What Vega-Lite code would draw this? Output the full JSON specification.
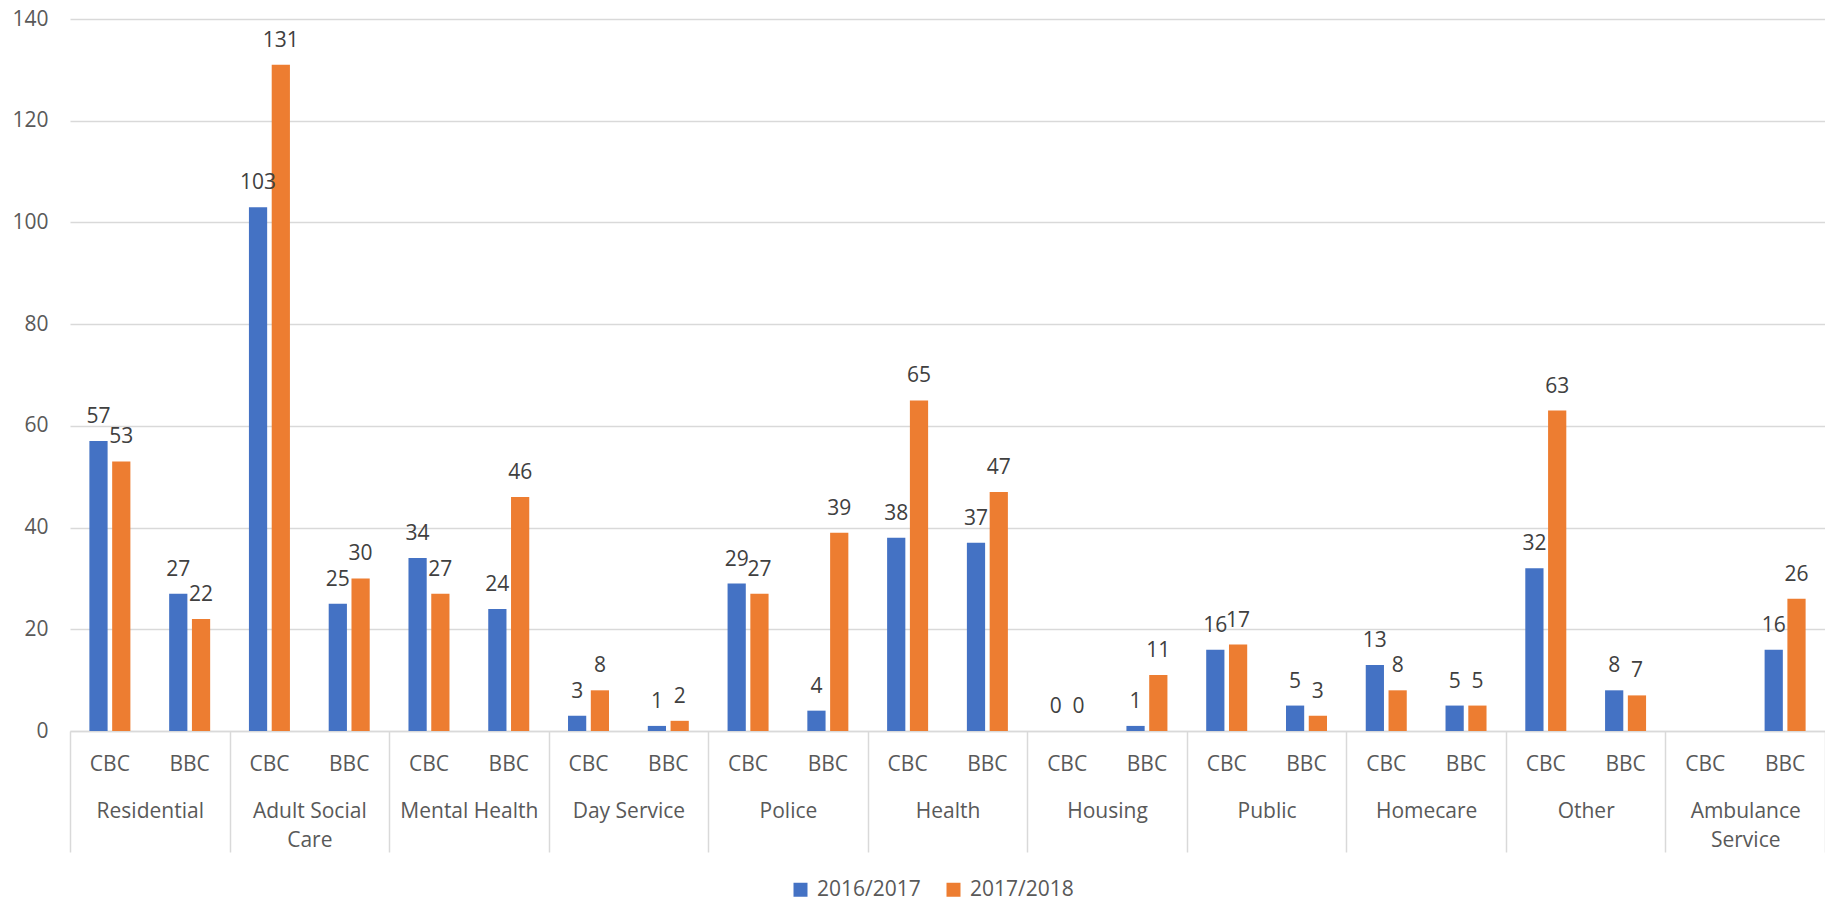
{
  "$schema": "https://vega.github.io/schema/vega-lite/v6.json",
  "autosize": {"type": "none"},
  "width": 1755,
  "height": 712,
  "padding": {"left": 70, "top": 19, "right": 0, "bottom": 171},
  "background": "white",
  "config": {
    "font": "Open Sans",
    "view": {"stroke": null}
  },
  "data": {
    "values": [
      {"category": "Residential", "sub": "CBC", "key": "Residential|CBC", "series": "2016/2017", "value": 57},
      {"category": "Residential", "sub": "CBC", "key": "Residential|CBC", "series": "2017/2018", "value": 53},
      {"category": "Residential", "sub": "BBC", "key": "Residential|BBC", "series": "2016/2017", "value": 27},
      {"category": "Residential", "sub": "BBC", "key": "Residential|BBC", "series": "2017/2018", "value": 22},
      {"category": "Adult Social Care", "sub": "CBC", "key": "Adult Social Care|CBC", "series": "2016/2017", "value": 103},
      {"category": "Adult Social Care", "sub": "CBC", "key": "Adult Social Care|CBC", "series": "2017/2018", "value": 131},
      {"category": "Adult Social Care", "sub": "BBC", "key": "Adult Social Care|BBC", "series": "2016/2017", "value": 25},
      {"category": "Adult Social Care", "sub": "BBC", "key": "Adult Social Care|BBC", "series": "2017/2018", "value": 30},
      {"category": "Mental Health", "sub": "CBC", "key": "Mental Health|CBC", "series": "2016/2017", "value": 34},
      {"category": "Mental Health", "sub": "CBC", "key": "Mental Health|CBC", "series": "2017/2018", "value": 27},
      {"category": "Mental Health", "sub": "BBC", "key": "Mental Health|BBC", "series": "2016/2017", "value": 24},
      {"category": "Mental Health", "sub": "BBC", "key": "Mental Health|BBC", "series": "2017/2018", "value": 46},
      {"category": "Day Service", "sub": "CBC", "key": "Day Service|CBC", "series": "2016/2017", "value": 3},
      {"category": "Day Service", "sub": "CBC", "key": "Day Service|CBC", "series": "2017/2018", "value": 8},
      {"category": "Day Service", "sub": "BBC", "key": "Day Service|BBC", "series": "2016/2017", "value": 1},
      {"category": "Day Service", "sub": "BBC", "key": "Day Service|BBC", "series": "2017/2018", "value": 2},
      {"category": "Police", "sub": "CBC", "key": "Police|CBC", "series": "2016/2017", "value": 29},
      {"category": "Police", "sub": "CBC", "key": "Police|CBC", "series": "2017/2018", "value": 27},
      {"category": "Police", "sub": "BBC", "key": "Police|BBC", "series": "2016/2017", "value": 4},
      {"category": "Police", "sub": "BBC", "key": "Police|BBC", "series": "2017/2018", "value": 39},
      {"category": "Health", "sub": "CBC", "key": "Health|CBC", "series": "2016/2017", "value": 38},
      {"category": "Health", "sub": "CBC", "key": "Health|CBC", "series": "2017/2018", "value": 65},
      {"category": "Health", "sub": "BBC", "key": "Health|BBC", "series": "2016/2017", "value": 37},
      {"category": "Health", "sub": "BBC", "key": "Health|BBC", "series": "2017/2018", "value": 47},
      {"category": "Housing", "sub": "CBC", "key": "Housing|CBC", "series": "2016/2017", "value": 0},
      {"category": "Housing", "sub": "CBC", "key": "Housing|CBC", "series": "2017/2018", "value": 0},
      {"category": "Housing", "sub": "BBC", "key": "Housing|BBC", "series": "2016/2017", "value": 1},
      {"category": "Housing", "sub": "BBC", "key": "Housing|BBC", "series": "2017/2018", "value": 11},
      {"category": "Public", "sub": "CBC", "key": "Public|CBC", "series": "2016/2017", "value": 16},
      {"category": "Public", "sub": "CBC", "key": "Public|CBC", "series": "2017/2018", "value": 17},
      {"category": "Public", "sub": "BBC", "key": "Public|BBC", "series": "2016/2017", "value": 5},
      {"category": "Public", "sub": "BBC", "key": "Public|BBC", "series": "2017/2018", "value": 3},
      {"category": "Homecare", "sub": "CBC", "key": "Homecare|CBC", "series": "2016/2017", "value": 13},
      {"category": "Homecare", "sub": "CBC", "key": "Homecare|CBC", "series": "2017/2018", "value": 8},
      {"category": "Homecare", "sub": "BBC", "key": "Homecare|BBC", "series": "2016/2017", "value": 5},
      {"category": "Homecare", "sub": "BBC", "key": "Homecare|BBC", "series": "2017/2018", "value": 5},
      {"category": "Other", "sub": "CBC", "key": "Other|CBC", "series": "2016/2017", "value": 32},
      {"category": "Other", "sub": "CBC", "key": "Other|CBC", "series": "2017/2018", "value": 63},
      {"category": "Other", "sub": "BBC", "key": "Other|BBC", "series": "2016/2017", "value": 8},
      {"category": "Other", "sub": "BBC", "key": "Other|BBC", "series": "2017/2018", "value": 7},
      {"category": "Ambulance Service", "sub": "BBC", "key": "Ambulance Service|BBC", "series": "2016/2017", "value": 16},
      {"category": "Ambulance Service", "sub": "BBC", "key": "Ambulance Service|BBC", "series": "2017/2018", "value": 26}
    ]
  },
  "encoding": {
    "y": {
      "field": "value",
      "type": "quantitative",
      "scale": {"domain": [0, 140], "nice": false},
      "axis": {
        "title": null,
        "values": [0, 20, 40, 60, 80, 100, 120, 140],
        "domain": false,
        "ticks": false,
        "labelFontSize": 21,
        "labelColor": "#595959",
        "labelPadding": 22,
        "gridColor": "#d9d9d9",
        "gridWidth": 1.3
      }
    }
  },
  "layer": [
    {
      "encoding": {
        "x": {
          "field": "key",
          "type": "nominal",
          "scale": {
            "domain": ["Residential|CBC", "Residential|BBC", "Adult Social Care|CBC", "Adult Social Care|BBC", "Mental Health|CBC", "Mental Health|BBC", "Day Service|CBC", "Day Service|BBC", "Police|CBC", "Police|BBC", "Health|CBC", "Health|BBC", "Housing|CBC", "Housing|BBC", "Public|CBC", "Public|BBC", "Homecare|CBC", "Homecare|BBC", "Other|CBC", "Other|BBC", "Ambulance Service|CBC", "Ambulance Service|BBC"],
            "paddingInner": 0.486,
            "paddingOuter": 0.243
          },
          "axis": {
            "orient": "bottom",
            "title": null,
            "labelExpr": "split(datum.value, '|')[1]",
            "labelAngle": 0,
            "labelFontSize": 21,
            "labelColor": "#595959",
            "labelBaseline": "alphabetic",
            "labelPadding": 39,
            "ticks": false,
            "domainColor": "#d9d9d9",
            "domainWidth": 1.5,
            "grid": false
          }
        },
        "xOffset": {"field": "series", "type": "nominal", "scale": {"paddingInner": 0.2}},
        "color": {
          "field": "series",
          "type": "nominal",
          "scale": {"domain": ["2016/2017", "2017/2018"], "range": ["#4472C4", "#ED7D31"]},
          "legend": {
            "title": null,
            "orient": "none",
            "direction": "horizontal",
            "legendX": 720,
            "legendY": 860,
            "symbolType": "square",
            "symbolSize": 196,
            "symbolStrokeWidth": 0,
            "labelFontSize": 21,
            "labelColor": "#595959",
            "labelOffset": 6,
            "columnPadding": 22
          }
        }
      },
      "layer": [
        {"mark": {"type": "bar"}},
        {
          "mark": {"type": "text", "baseline": "alphabetic", "dy": -18, "fontSize": 21, "color": "#404040"},
          "encoding": {"text": {"field": "value", "type": "quantitative"}, "color": {"value": "#404040"}}
        }
      ]
    },
    {
      "mark": {"type": "bar", "opacity": 0},
      "encoding": {
        "x": {
          "field": "category",
          "type": "nominal",
          "scale": {
            "domain": ["Residential", "Adult Social Care", "Mental Health", "Day Service", "Police", "Health", "Housing", "Public", "Homecare", "Other", "Ambulance Service"],
            "paddingInner": 0,
            "paddingOuter": 0
          },
          "axis": {
            "orient": "bottom",
            "title": null,
            "domain": false,
            "grid": false,
            "ticks": true,
            "tickBand": "extent",
            "tickSize": 121,
            "tickColor": "#d9d9d9",
            "tickWidth": 1.5,
            "labelAngle": 0,
            "labelFontSize": 21,
            "labelColor": "#595959",
            "labelBaseline": "alphabetic",
            "labelPadding": -35,
            "labelLineHeight": 29,
            "labelExpr": "datum.value == 'Adult Social Care' ? ['Adult Social', 'Care'] : datum.value == 'Ambulance Service' ? ['Ambulance', 'Service'] : datum.value"
          }
        }
      }
    }
  ],
  "resolve": {"scale": {"x": "independent", "xOffset": "independent"}, "axis": {"x": "independent"}}
}
